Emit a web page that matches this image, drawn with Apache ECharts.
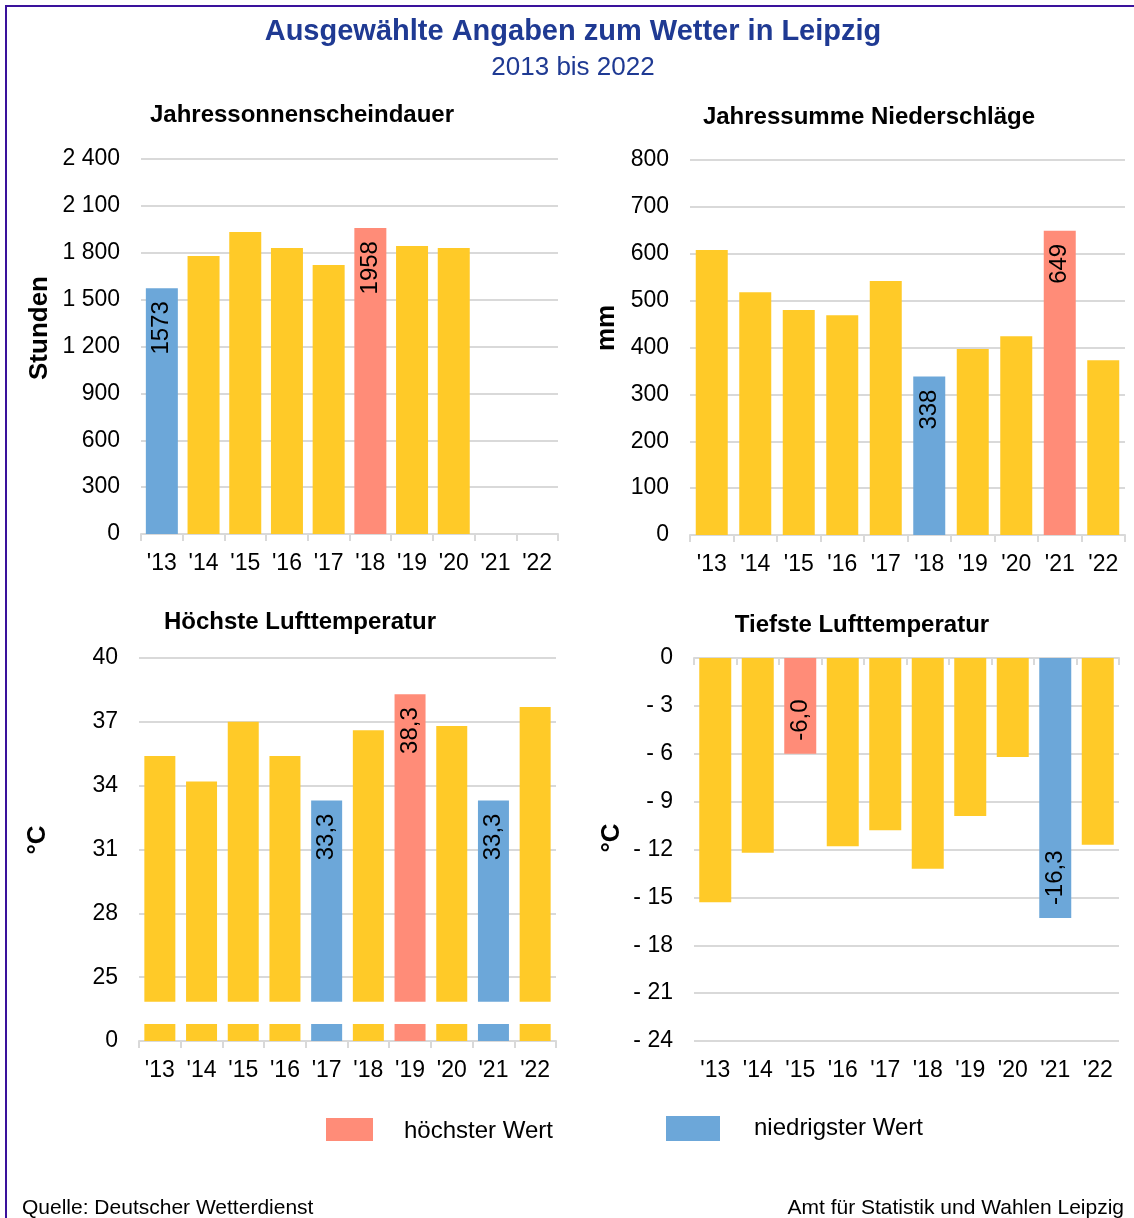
<!DOCTYPE html>
<html>
<head>
<meta charset="utf-8">
<title>Wetter Leipzig</title>
<script src="https://cdn.jsdelivr.net/npm/echarts@6/dist/echarts.min.js"></script>
<style>
  html, body { margin: 0; padding: 0; background: #fff; }
  #chart { width: 1134px; height: 1218px; }
</style>
</head>
<body>
<div id="chart"></div>
<script>
// Jahre 2013 bis 2022
const years = ["'13", "'14", "'15", "'16", "'17", "'18", "'19", "'20", "'21", "'22"]

// Werte
const sunshineHours = [1573, 1779, 1933, 1830, 1722, 1958, 1843, 1830, null, null]
const precipitationMm = [608, 518, 480, 469, 542, 338, 397, 424, 649, 373]
const maxTempC = [35.4, 34.2, 37.0, 35.4, 33.3, 36.6, 38.3, 36.8, 33.3, 37.7]
const minTempC = [-15.3, -12.2, -6.0, -11.8, -10.8, -13.2, -9.9, -6.2, -16.3, -11.7]

// unterbrochene Achse bei der Höchsttemperatur: "0" liegt optisch bei 22 °C
const TEMP_BASE = 22
const STUB_TOP = 0.8
const GAP_TOP = 1.85

const YELLOW = '#FFCA28'
const HIGH = '#FF8C78'
const LOW = '#6CA7D9'
const FONT = '"Liberation Sans", Arial, sans-serif'

const chart = echarts.init(document.getElementById('chart'))

function kind(arr, i) {
  const vals = arr.filter(v => v != null)
  const v = arr[i]
  if (v === Math.max(...vals)) return 'high'
  if (v === Math.min(...vals)) return 'low'
  return 'normal'
}

function barColor(arr) {
  return p => {
    const k = kind(arr, p.dataIndex)
    return k === 'high' ? HIGH : k === 'low' ? LOW : YELLOW
  }
}

function de(v, digits) {
  return v.toFixed(digits).replace('.', ',')
}

function valueLabel(arr, digits, position, align) {
  return {
    show: true,
    position,
    rotate: 90,
    align,
    verticalAlign: 'middle',
    distance: 13,
    fontSize: 24,
    color: '#000',
    fontFamily: FONT,
    formatter: p => kind(arr, p.dataIndex) === 'normal' ? '' : de(arr[p.dataIndex], digits)
  }
}

const gridLine = { lineStyle: { color: '#D9D9D9', width: 2 } }
const axisGray = { lineStyle: { color: '#D9D9D9', width: 2 } }

function xAxis(gridIndex, extra) {
  return Object.assign({
    gridIndex,
    type: 'category',
    data: years,
    axisLine: axisGray,
    axisTick: { show: true, length: 7, lineStyle: { color: '#D9D9D9', width: 2 } },
    axisLabel: { interval: 0, fontSize: 23, color: '#000', margin: 18, fontFamily: FONT },
    splitLine: { show: false }
  }, extra || {})
}

function yAxis(gridIndex, min, max, interval, formatter) {
  return {
    gridIndex,
    type: 'value',
    min,
    max,
    interval,
    axisLine: { show: false },
    axisTick: { show: false },
    splitLine: gridLine,
    axisLabel: { fontSize: 23, color: '#000', margin: 21, fontFamily: FONT, formatter }
  }
}

const spaced = v => String(v).replace(/\B(?=(\d{3})+(?!\d))/g, ' ')

const subTitle = (text, x, y) => ({
  text,
  left: x,
  top: y,
  textAlign: 'center',
  textStyle: { fontSize: 24, fontWeight: 'bold', color: '#000', fontFamily: FONT }
})

const axisName = (text, x, y) => ({
  type: 'text',
  x,
  y,
  rotation: Math.PI / 2,
  style: { text, font: 'bold 26px ' + FONT, fill: '#000', align: 'center', verticalAlign: 'middle' }
})

const option = {
  backgroundColor: '#fff',
  animation: false,
  textStyle: { fontFamily: FONT },
  title: [
    {
      text: 'Ausgewählte Angaben zum Wetter in Leipzig',
      left: 568,
      top: 12,
      textAlign: 'center',
      textStyle: { fontSize: 29, fontWeight: 'bold', color: '#1F3A93', fontFamily: FONT }
    },
    {
      text: '2013 bis 2022',
      left: 568,
      top: 50,
      textAlign: 'center',
      textStyle: { fontSize: 26, fontWeight: 'normal', color: '#1F3A93', fontFamily: FONT }
    },
    subTitle('Jahressonnenscheindauer', 297, 98),
    subTitle('Jahressumme Niederschläge', 864, 100),
    subTitle('Höchste Lufttemperatur', 295, 605),
    subTitle('Tiefste Lufttemperatur', 857, 608)
  ],
  grid: [
    { left: 141, top: 159, width: 417, height: 375, containLabel: false, outerBoundsMode: 'none' },
    { left: 690, top: 160, width: 435, height: 375, containLabel: false, outerBoundsMode: 'none' },
    { left: 139, top: 658, width: 417, height: 383, containLabel: false, outerBoundsMode: 'none' },
    { left: 694, top: 658, width: 425, height: 383, containLabel: false, outerBoundsMode: 'none' }
  ],
  xAxis: [
    xAxis(0),
    xAxis(1),
    xAxis(2),
    xAxis(3, { position: 'bottom', axisLine: { show: false, onZero: false }, axisTick: { show: false } }),
    xAxis(3, {
      position: 'top',
      axisLine: { show: true, onZero: false, lineStyle: { color: '#D9D9D9', width: 2 } },
      axisTick: { show: true, inside: true, length: 7, lineStyle: { color: '#D9D9D9', width: 2 } },
      axisLabel: { show: false }
    })
  ],
  yAxis: [
    yAxis(0, 0, 2400, 300, spaced),
    yAxis(1, 0, 800, 100),
    yAxis(2, 0, 18, 3, v => v === 0 ? '0' : String(v + TEMP_BASE)),
    yAxis(3, -24, 0, 3, v => v === 0 ? '0' : '- ' + Math.abs(v))
  ],
  series: [
    {
      type: 'bar',
      xAxisIndex: 0,
      yAxisIndex: 0,
      barWidth: 32,
      data: sunshineHours,
      itemStyle: { color: barColor(sunshineHours) },
      label: valueLabel(sunshineHours, 0, 'insideTop', 'right')
    },
    {
      type: 'bar',
      xAxisIndex: 1,
      yAxisIndex: 1,
      barWidth: 32,
      data: precipitationMm,
      itemStyle: { color: barColor(precipitationMm) },
      label: valueLabel(precipitationMm, 0, 'insideTop', 'right')
    },
    // Höchsttemperatur: Stummel unten, Lücke, eigentlicher Balken
    {
      type: 'bar',
      xAxisIndex: 2,
      yAxisIndex: 2,
      stack: 'hot',
      barWidth: 31,
      data: years.map(() => STUB_TOP),
      itemStyle: { color: barColor(maxTempC) },
      silent: true
    },
    {
      type: 'bar',
      xAxisIndex: 2,
      yAxisIndex: 2,
      stack: 'hot',
      barWidth: 31,
      data: years.map(() => GAP_TOP - STUB_TOP),
      itemStyle: { color: '#FFFFFF' },
      silent: true
    },
    {
      type: 'bar',
      xAxisIndex: 2,
      yAxisIndex: 2,
      stack: 'hot',
      barWidth: 31,
      data: maxTempC.map(v => v - TEMP_BASE - GAP_TOP),
      itemStyle: { color: barColor(maxTempC) },
      label: valueLabel(maxTempC, 1, 'insideTop', 'right')
    },
    {
      type: 'bar',
      xAxisIndex: 3,
      yAxisIndex: 3,
      barWidth: 32,
      data: minTempC,
      itemStyle: { color: barColor(minTempC) },
      label: valueLabel(minTempC, 1, 'insideBottom', 'left')
    }
  ],
  graphic: [
    // Rahmen
    {
      type: 'rect',
      shape: { x: 6, y: 6, width: 1160, height: 1240 },
      style: { fill: 'none', stroke: '#3A129C', lineWidth: 2 },
      silent: true
    },
    axisName('Stunden', 40, 328),
    axisName('mm', 607, 328),
    axisName('°C', 38, 840),
    axisName('°C', 612, 838),
    // Legende
    { type: 'rect', shape: { x: 326, y: 1118, width: 47, height: 23 }, style: { fill: HIGH } },
    {
      type: 'text', x: 404, y: 1131,
      style: { text: 'höchster Wert', font: '24px ' + FONT, fill: '#000', verticalAlign: 'middle' }
    },
    { type: 'rect', shape: { x: 666, y: 1116, width: 54, height: 25 }, style: { fill: LOW } },
    {
      type: 'text', x: 754, y: 1128,
      style: { text: 'niedrigster Wert', font: '24px ' + FONT, fill: '#000', verticalAlign: 'middle' }
    },
    // Fußzeile
    {
      type: 'text', x: 22, y: 1208,
      style: { text: 'Quelle: Deutscher Wetterdienst', font: '21px ' + FONT, fill: '#000', verticalAlign: 'middle' }
    },
    {
      type: 'text', x: 1124, y: 1208,
      style: { text: 'Amt für Statistik und Wahlen Leipzig', font: '21px ' + FONT, fill: '#000', align: 'right', verticalAlign: 'middle' }
    }
  ]
}

chart.setOption(option)
</script>
</body>
</html>
